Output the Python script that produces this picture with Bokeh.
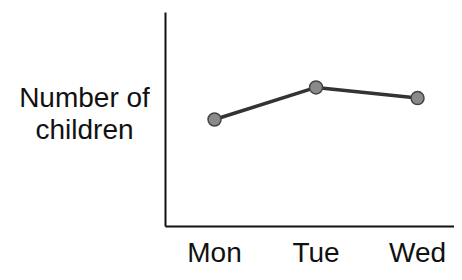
from bokeh.plotting import figure
from bokeh.models import Range1d, FixedTicker
from bokeh.layouts import row
from bokeh.core.properties import value
from bokeh.embed import file_html
from bokeh.resources import INLINE

days = ["Mon", "Tue", "Wed"]
children = [5.0, 6.5, 6.0]
y_label_lines = ["Number of", "children"]

xpos = [i + 0.5 for i in range(len(days))]
H = 272
TOP, BOTTOM = 12, 46

y_range = Range1d(0, 10)

p = figure(width=304, height=H, output_backend="svg", toolbar_location=None,
           x_range=Range1d(0.017, 2.864), y_range=y_range,
           min_border_left=15, min_border_right=0, min_border_top=TOP, min_border_bottom=BOTTOM)
p.outline_line_color = None
p.xgrid.visible = False
p.ygrid.visible = False

p.line(xpos, children, line_color="#333333", line_width=3.5)
p.scatter(xpos, children, size=13, fill_color="#8a8a8a", line_color="#444444", line_width=1.5)

for ax in (p.xaxis[0], p.yaxis[0]):
    ax.axis_line_color = "#111111"
    ax.axis_line_width = 2
    ax.major_tick_line_color = None
    ax.minor_tick_line_color = None
    ax.major_tick_out = 0
    ax.major_tick_in = 0

p.yaxis.ticker = FixedTicker(ticks=[])
p.yaxis.major_label_standoff = 0

p.xaxis.ticker = FixedTicker(ticks=xpos)
p.xaxis.major_label_overrides = {x: d for x, d in zip(xpos, days)}
p.xaxis.major_label_text_font = "Liberation Sans"
p.xaxis.major_label_text_font_size = "28px"
p.xaxis.major_label_text_color = "#111111"
p.xaxis.major_label_standoff = 10

# left panel holding the horizontal y-axis title, sharing the y scale of the chart
lab = figure(width=150, height=H, output_backend="svg", toolbar_location=None,
             x_range=Range1d(0, 150), y_range=y_range,
             x_axis_type=None, y_axis_type=None,
             min_border_left=0, min_border_right=0, min_border_top=TOP, min_border_bottom=BOTTOM)
lab.outline_line_color = None
lab.xgrid.visible = False
lab.ygrid.visible = False
lab.text(x=[84] * len(y_label_lines), y=[6.01, 4.54],
         text=y_label_lines, text_align="center", text_baseline="alphabetic",
         text_font=value("Liberation Sans"), text_font_size="28px", text_color="#111111")

open("out.html", "w").write(file_html(row(lab, p), INLINE))
